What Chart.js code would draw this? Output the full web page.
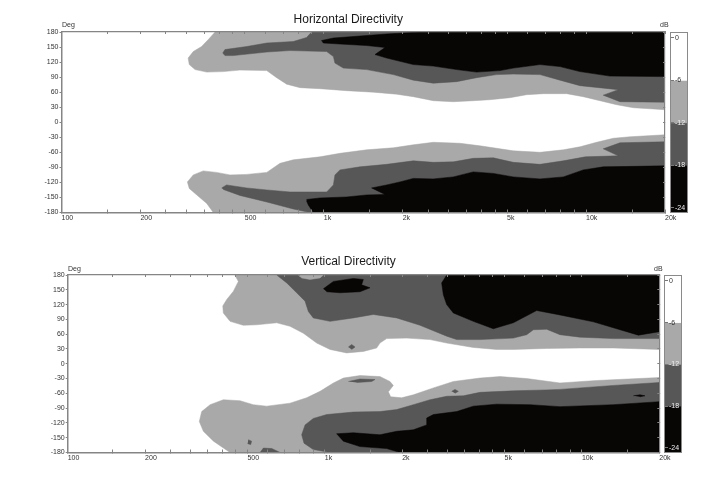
<!DOCTYPE html>
<html lang="en">
<head>
<meta charset="utf-8">
<title>Horizontal and Vertical Directivity</title>
<script src="https://cdn.jsdelivr.net/npm/chart.js@4.4.1/dist/chart.umd.min.js"></script>
<style>
  body { margin: 0; background: #fff; }
  #page { position: relative; width: 728px; height: 482px; font-family: "Liberation Sans", Arial, sans-serif; }
  #page canvas { position: absolute; left: 0; top: 0; }
  .note { position: absolute; font-size: 7px; line-height: 8px; color: #333; }
  .bar { position: absolute; box-sizing: border-box; border: 1px solid #8a8a8a; background: #fff; }
</style>
</head>
<body>
<div id="page">
  <canvas id="hChart" width="728" height="240"></canvas>
  <canvas id="vChart" width="728" height="240" style="top:242px"></canvas>
  <div class="bar" style="left:670px;top:31.5px;width:18px;height:181px"><canvas id="hScale" width="16" height="179"></canvas></div>
  <div class="bar" style="left:664px;top:275px;width:18px;height:178px"><canvas id="vScale" width="16" height="176"></canvas></div>
  <div class="note" style="left:62px;top:21px">Deg</div>
  <div class="note" style="left:660px;top:21px">dB</div>
  <div class="note" style="left:68px;top:265px">Deg</div>
  <div class="note" style="left:654px;top:265px">dB</div>
</div>
<script>
// axes
const freqTicks = [100, 150, 200, 250, 300, 350, 400, 450, 500, 600, 700, 800, 900,
  1000, 1500, 2000, 2500, 3000, 3500, 4000, 4500, 5000, 6000, 7000, 8000, 9000, 10000, 15000, 20000];
const freqLabels = {100: '100', 200: '200', 500: '500', 1000: '1k', 2000: '2k', 5000: '5k', 10000: '10k', 20000: '20k'};
const degTicks = [180, 150, 120, 90, 60, 30, 0, -30, -60, -90, -120, -150, -180];
const dbLevels = [0, -6, -12, -18, -24];
const DB_TOP = 0.7, DB_BOTTOM = -24.6;

// contour outlines [Hz, deg] - horizontal
const hLightUpper = [[385,180],[363,165],[342,151],[318,141],[304,128],[307,115],[323,105],[358,100],[414,101],[479,104],[606,103],[661,89],[722,76],[812,69],[967,67],[1222,63],[1545,60],[1896,56],[2195,51],[2616,43],[3118,41],[3716,43],[4301,45],[5127,49],[5934,55],[6871,57],[8433,57],[9760,51],[11300,43],[13080,35],[15140,29],[17520,27],[20000,25],[20000,180]];
const hDarkUpper = [[899,180],[860,169],[765,161],[606,158],[508,151],[420,145],[412,138],[420,133],[452,133],[606,140],[743,143],[1026,141],[1088,131],[1103,118],[1187,108],[1457,105],[1841,95],[2195,84],[2616,78],[3211,81],[3826,89],[4561,95],[5280,96],[6673,95],[7953,84],[9480,73],[13270,65],[11630,54],[13470,41],[20000,40],[20000,180]];
const hBlackUpper = [[2327,180],[1737,176],[1374,172],[1088,168],[981,163],[996,158],[1153,156],[1457,153],[1712,149],[1568,135],[1737,128],[2195,115],[2616,112],[3211,105],[3826,100],[4697,103],[5280,108],[6673,115],[7953,111],[9480,101],[12340,92],[20000,91],[20000,180]];
const hLightLower = [[379,-180],[358,-162],[328,-145],[307,-132],[302,-119],[318,-105],[347,-97],[390,-100],[439,-105],[508,-104],[606,-100],[681,-82],[765,-75],[967,-69],[1153,-62],[1457,-55],[1841,-51],[2195,-45],[2616,-40],[3307,-42],[3940,-47],[4561,-52],[5280,-57],[6673,-60],[8190,-55],[9480,-49],[10970,-40],[12700,-32],[14710,-29],[20000,-25],[20000,-180]];
const hDarkLower = [[408,-131],[426,-125],[508,-131],[606,-135],[743,-139],[1026,-139],[1088,-125],[1103,-105],[1153,-95],[1374,-89],[1737,-84],[2195,-77],[2616,-80],[3118,-79],[3716,-72],[4430,-71],[5280,-80],[6673,-84],[8190,-77],[9936,-69],[13270,-67],[11630,-53],[13470,-41],[20000,-39],[20000,-180],[886,-180],[765,-173],[606,-159],[479,-146],[414,-134]];
const hBlackLower = [[860,-154],[967,-151],[1222,-149],[1457,-145],[1712,-144],[1522,-131],[1737,-125],[1952,-119],[2195,-112],[2616,-113],[3118,-109],[3716,-99],[4430,-102],[5280,-109],[6673,-113],[8190,-109],[9760,-95],[11630,-89],[20000,-87],[20000,-180],[912,-180],[873,-165],[860,-157]];

// contour outlines [Hz, deg] - vertical
const vLightUpper = [[447,180],[461,167],[441,147],[415,130],[401,117],[403,103],[428,86],[482,78],[543,79],[650,83],[732,76],[825,62],[930,42],[1048,29],[1216,22],[1412,25],[1591,32],[1639,42],[1740,51],[2082,52],[2566,49],[2979,42],[3782,33],[4661,29],[5411,29],[7294,31],[9831,32],[13250,32],[20000,29],[20000,180]];
const vDarkUpper = [[650,180],[711,164],[777,144],[838,127],[863,106],[902,93],[1048,86],[1291,93],[1545,100],[1903,93],[2346,78],[2979,56],[3258,49],[4015,49],[5411,52],[6099,59],[6475,69],[7294,70],[8217,59],[9831,54],[13250,51],[20000,51],[20000,180]];
const vBlackUpper = [[2979,180],[2848,164],[2891,140],[2979,120],[3162,103],[3782,86],[4524,71],[5411,83],[6668,108],[8217,99],[11080,85],[16580,58],[20000,65],[20000,180]];
const vLightIsle = [[789,180],[813,174],[876,171],[958,174],[987,180]];
const vBlackIsle = [[987,152],[1080,167],[1291,173],[1412,171],[1391,160],[1499,154],[1370,146],[1146,144],[1017,146]];
const vDarkIsleA = [[1235,34],[1272,39],[1311,34],[1272,29]];
const vLightLower = [[428,-180],[369,-157],[337,-137],[325,-117],[332,-97],[358,-83],[403,-73],[468,-75],[527,-83],[594,-86],[732,-80],[850,-69],[958,-56],[1080,-39],[1181,-29],[1370,-24],[1639,-26],[1793,-36],[1847,-44],[1767,-57],[1804,-67],[1991,-69],[2210,-63],[2644,-49],[3162,-36],[4015,-29],[4801,-26],[6099,-30],[8217,-39],[11410,-34],[20000,-28],[20000,-180]];
const vDarkLower = [[1048,-180],[902,-174],[830,-161],[813,-144],[838,-124],[902,-111],[1017,-103],[1291,-98],[1639,-97],[1903,-93],[2210,-83],[2566,-73],[2979,-66],[3458,-65],[4015,-58],[5411,-55],[7294,-53],[8217,-52],[13250,-44],[20000,-38],[20000,-180]];
const vBlackLower = [[1961,-180],[1740,-172],[1370,-168],[1181,-157],[1112,-142],[1291,-140],[1639,-144],[1903,-137],[2210,-134],[2491,-124],[2491,-110],[2644,-103],[3258,-97],[3782,-86],[4661,-82],[6284,-83],[8217,-87],[13250,-83],[20000,-77],[20000,-180]];
const vDarkIsleB = [[1235,-36],[1370,-31],[1568,-32],[1521,-36],[1331,-38]];
const vDarkIsleC = [[3116,-56],[3209,-52],[3306,-56],[3209,-60]];
const vDarkIsleD = [[504,-154],[519,-157],[515,-164],[501,-162]];
const vDarkIsleE = [[560,-180],[577,-171],[622,-172],[670,-180]];
const vBlackIsleB = [[15850,-65],[16820,-63],[17590,-65],[16820,-67]];

const WHITE = '#ffffff', LIGHT = '#a9a9a9', DARK = '#575757', BLACK = '#080505', FRAME = '#858585';
const bandColors = [WHITE, LIGHT, DARK, BLACK];

Chart.defaults.font.family = '"Liberation Sans", Arial, sans-serif';
Chart.defaults.color = '#333';

function poly(points, color, order) {
  return {
    data: points.map(p => ({ x: p[0], y: p[1] })),
    fill: 'shape',
    backgroundColor: color,
    borderColor: color,
    borderWidth: 0.5,
    pointRadius: 0,
    tension: 0,
    clip: 0,
    order: order
  };
}

const fixTicks = list => s => { s.ticks = list.map(v => ({ value: v })); };

function directivity(id, title, layers, pad, titleGap) {
  return new Chart(document.getElementById(id), {
    type: 'line',
    data: { datasets: layers },
    options: {
      responsive: false,
      animation: false,
      devicePixelRatio: 1,
      events: [],
      layout: { padding: pad },
      plugins: {
        legend: { display: false },
        tooltip: { enabled: false },
        title: {
          display: true, text: title, color: '#1a1a1a',
          font: { size: 12, weight: 'normal' },
          padding: { top: 0, bottom: titleGap }
        }
      },
      scales: {
        x: {
          type: 'logarithmic', position: 'bottom', min: 100, max: 20000,
          afterBuildTicks: fixTicks(freqTicks),
          afterFit: s => { s.height = 20; },
          ticks: { autoSkip: false, maxRotation: 0, align: 'start', padding: 4.5, font: { size: 7 },
                   callback: v => freqLabels[v] || '' },
          grid: { drawOnChartArea: false, tickLength: -3, color: FRAME, z: 1 },
          border: { color: FRAME, width: 1.5, z: 1 }
        },
        x2: {
          type: 'logarithmic', position: 'top', min: 100, max: 20000,
          afterBuildTicks: fixTicks(freqTicks),
          afterFit: s => { s.height = 0; },
          ticks: { display: false },
          grid: { drawOnChartArea: false, tickLength: -2, color: FRAME, z: 1 },
          border: { color: FRAME, width: 1.2, z: 1 }
        },
        y: {
          type: 'linear', position: 'left', min: -180, max: 180,
          afterBuildTicks: fixTicks(degTicks),
          afterFit: s => { s.width = 30; },
          ticks: { padding: 1, font: { size: 7 } },
          grid: { drawOnChartArea: false, tickLength: 2, color: FRAME, z: 1 },
          border: { color: FRAME, width: 1.5, z: 1 }
        },
        y2: {
          type: 'linear', position: 'right', min: -180, max: 180,
          afterBuildTicks: fixTicks(degTicks),
          afterFit: s => { s.width = 0; },
          ticks: { display: false },
          grid: { drawOnChartArea: false, tickLength: -2, color: FRAME, z: 1 },
          border: { color: FRAME, width: 1.2, z: 1 }
        }
      }
    }
  });
}

function levelBar(id) {
  const edges = [DB_TOP].concat(dbLevels.slice(1, -1), [DB_BOTTOM]);
  return new Chart(document.getElementById(id), {
    type: 'bar',
    data: {
      labels: [''],
      datasets: bandColors.map((c, i) => ({
        data: [[edges[i], edges[i + 1]]],
        backgroundColor: c,
        borderWidth: 0,
        grouped: false,
        barPercentage: 1,
        categoryPercentage: 1
      }))
    },
    options: {
      responsive: false,
      animation: false,
      devicePixelRatio: 1,
      events: [],
      layout: { padding: 0 },
      plugins: { legend: { display: false }, tooltip: { enabled: false } },
      scales: {
        x: { display: false },
        y: {
          min: DB_BOTTOM, max: DB_TOP,
          afterBuildTicks: fixTicks(dbLevels),
          afterFit: s => { s.width = 0; s.paddingTop = 0; s.paddingBottom = 0; },
          ticks: { mirror: true, padding: 4, z: 1, font: { size: 7 },
                   color: c => (c.tick && c.tick.value <= -12) ? '#eeeeee' : '#333333' },
          grid: { drawOnChartArea: false, tickLength: -3, color: '#777', z: 1 },
          border: { display: false }
        }
      }
    }
  });
}

directivity('hChart', 'Horizontal Directivity', [
  poly(hLightUpper, LIGHT, 6), poly(hLightLower, LIGHT, 6),
  poly(hDarkUpper, DARK, 5), poly(hDarkLower, DARK, 5),
  poly(hBlackUpper, BLACK, 4), poly(hBlackLower, BLACK, 4)
], { top: 12, left: 31.5, right: 63, bottom: 7.5 }, 5.6);

directivity('vChart', 'Vertical Directivity', [
  poly(vLightUpper, LIGHT, 6), poly(vLightLower, LIGHT, 6),
  poly(vDarkUpper, DARK, 5), poly(vDarkLower, DARK, 5),
  poly(vBlackUpper, BLACK, 4), poly(vBlackLower, BLACK, 4),
  poly(vLightIsle, LIGHT, 3),
  poly(vBlackIsle, BLACK, 2),
  poly(vDarkIsleA, DARK, 2), poly(vDarkIsleB, DARK, 2), poly(vDarkIsleC, DARK, 2),
  poly(vDarkIsleD, DARK, 2), poly(vDarkIsleE, DARK, 2),
  poly(vBlackIsleB, BLACK, 1)
], { top: 12.8, left: 37.7, right: 68.7, bottom: 9.5 }, 5.8);

levelBar('hScale');
levelBar('vScale');
</script>
</body>
</html>
